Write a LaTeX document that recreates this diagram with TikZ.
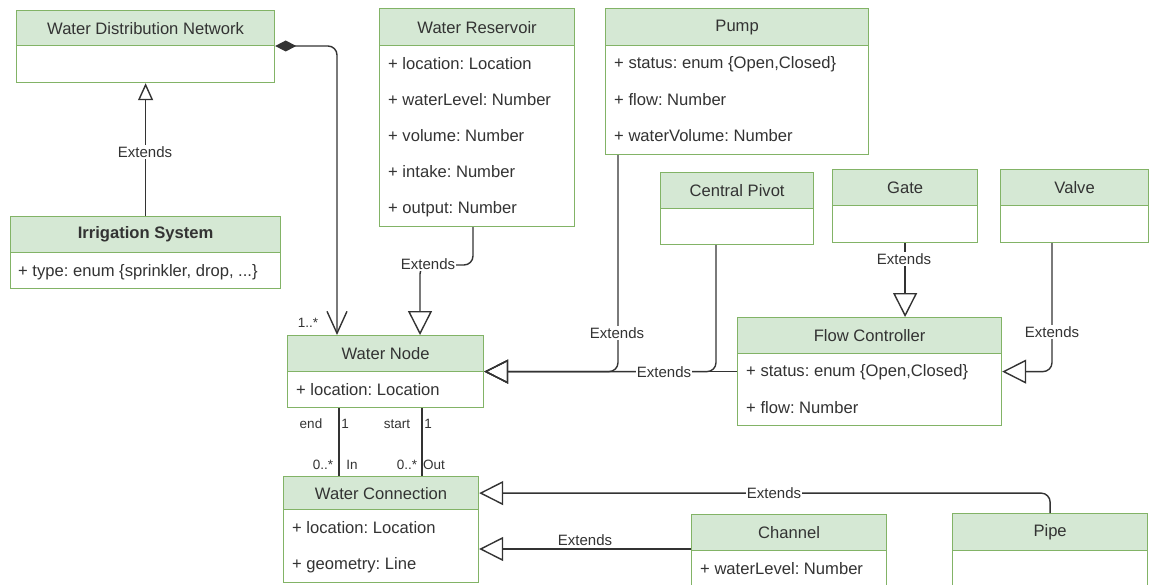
\documentclass[tikz,border=0pt]{standalone}
\usepackage{fontspec}
\setmainfont{Liberation Sans}
\usetikzlibrary{arrows.meta,calc}
\frenchspacing

\definecolor{hdrfill}{HTML}{D5E8D4}
\definecolor{hdrline}{HTML}{82B366}
\definecolor{ink}{HTML}{333333}

\tikzset{
  frame/.style={draw=hdrline, fill=white, line width=1.2pt, anchor=north west, inner sep=0pt},
  head/.style={draw=hdrline, fill=hdrfill, line width=1.2pt, anchor=north west, inner sep=0pt,
               text=ink, font=\fontsize{16.6}{20}\selectfont},
  attr/.style={anchor=west, inner sep=0pt, text=ink, font=\fontsize{16.6}{20}\selectfont},
  lab/.style={fill=white, inner sep=1pt, text=ink, font=\fontsize{15}{18}\selectfont},
  mult/.style={inner sep=0pt, text=ink, font=\fontsize{13.5}{16}\selectfont},
  link/.style={draw=ink, line width=1.4pt, rounded corners=9pt},
  gen/.style={link, -{Triangle[open, length=24pt, width=24pt]}},
  gensmall/.style={link, -{Triangle[open, length=17pt, width=15pt]}},
  comp/.style={link, {Diamond[length=21pt, width=11pt]}-{Straight Barb[length=22pt, width=20pt]}},
}

% #1 name, #2 left, #3 top, #4 width, #5 height, #6 header height, #7 title
\newcommand{\umlclass}[7]{%
  \node[frame, minimum width=#4pt, minimum height=#5pt] (#1) at (#2,#3) {};
  \node[head, minimum width=#4pt, minimum height=#6pt] (#1-h) at (#2,#3) {#7};
}

\begin{document}
\begin{tikzpicture}[x=1pt, y=-1pt]
\useasboundingbox (0,0) rectangle (1150,585);

% classes
\umlclass{wdn}{16}{10}{258}{72}{35}{Water Distribution Network}
\umlclass{irr}{10}{216}{270}{72}{36}{\textbf{Irrigation System}}
\umlclass{wr}{379}{8}{195}{218}{37}{Water Reservoir}
\umlclass{pump}{605}{8}{263}{146}{37}{Pump}
\umlclass{cp}{660}{172}{153}{72}{36}{Central Pivot}
\umlclass{gate}{832}{169}{145}{73}{36}{Gate}
\umlclass{valve}{1000}{169}{148}{73}{36}{Valve}
\umlclass{fc}{737}{317}{264}{108}{36}{Flow Controller}
\umlclass{wn}{287}{335}{196}{72}{36}{Water Node}
\umlclass{wc}{283}{476}{195}{106}{33}{Water Connection}
\umlclass{ch}{691}{514}{195}{75}{36}{Channel}
\umlclass{pipe}{952}{513}{195}{76}{37}{Pipe}

% attributes
\node[attr] (irr-a1) at (18,272) {+ type: enum \{sprinkler, drop, ...\}};
\node[attr] (wr-a1) at (388,64) {+ location: Location};
\node[attr] (wr-a2) at (388,100) {+ waterLevel: Number};
\node[attr] (wr-a3) at (388,136) {+ volume: Number};
\node[attr] (wr-a4) at (388,172) {+ intake: Number};
\node[attr] (wr-a5) at (388,209) {+ output: Number};
\node[attr] (pump-a1) at (614,64) {+ status: enum \{Open,Closed\}};
\node[attr] (pump-a2) at (614,100) {+ flow: Number};
\node[attr] (pump-a3) at (614,136) {+ waterVolume: Number};
\node[attr] (fc-a1) at (746,372) {+ status: enum \{Open,Closed\}};
\node[attr] (fc-a2) at (746,408) {+ flow: Number};
\node[attr] (wn-a1) at (296,390) {+ location: Location};
\node[attr] (wc-a1) at (292,528) {+ location: Location};
\node[attr] (wc-a2) at (292,565) {+ geometry: Line};
\node[attr] (ch-a1) at (700,569) {+ waterLevel: Number};

% anchor points on the class borders
\coordinate (wrout) at ($(wr.south west)+(94,0)$);
\coordinate (wrin) at ($(wn.north west)+(133,0)$);
\coordinate (pumpout) at ($(pump.south west)+(13,0)$);
\coordinate (cpout) at ($(cp.south west)+(56,0)$);
\coordinate (valveout) at ($(valve.south west)+(52,0)$);
\coordinate (chout) at ($(ch.north west)+(0,35)$);
\coordinate (endout) at ($(wn.south west)+(52,0)$);
\coordinate (startout) at ($(wn.south west)+(135,0)$);

% generalisations
\draw[gensmall] (irr.north) -- (wdn.south);
\draw[gen] (wrout) |- ($(wrin)+(0,-70)$) -- (wrin);
\draw[gen] (pumpout) |- (wn.east);
\draw[gen] (cpout) |- (wn.east);
\draw[gen] (fc.west) -- (wn.east);
\draw[gen] (gate.south) -- (gate.south |- fc.north);
\draw[gen] (valveout) |- (fc.east);
\draw[gen] (pipe.north) |- (wc-h.east);
\draw[gen] (chout) -- (chout -| wc.east);

% composition
\draw[comp] ($(wdn.north east)+(0,36)$) -| ($(wn.north west)+(50,0)$);

% associations
\draw[link] (endout) -- (endout |- wc.north);
\draw[link] (startout) -- (startout |- wc.north);

% connector labels
\node[lab] (l-irr) at (145,152) {Extends};
\node[lab] (l-wr) at (428,264) {Extends};
\node[lab] (l-pump) at (617,333) {Extends};
\node[lab] (l-fc) at (664,372) {Extends};
\node[lab] (l-gate) at (904,259) {Extends};
\node[lab] (l-valve) at (1052,332) {Extends};
\node[lab] (l-pipe) at (774,493) {Extends};
\node[lab] (l-ch) at (585,540) {Extends};

% multiplicities and roles
\node[mult] (m-wn) at (308,323) {1..*};
\node[mult] (m-end) at (311,424) {end};
\node[mult] (m-end1) at (345,424) {1};
\node[mult] (m-start) at (397,424) {start};
\node[mult] (m-start1) at (428,424) {1};
\node[mult] (m-in0) at (323,465) {0..*};
\node[mult] (m-in) at (352,465) {In};
\node[mult] (m-out0) at (407,465) {0..*};
\node[mult] (m-out) at (434,465) {Out};
\end{tikzpicture}
\end{document}
